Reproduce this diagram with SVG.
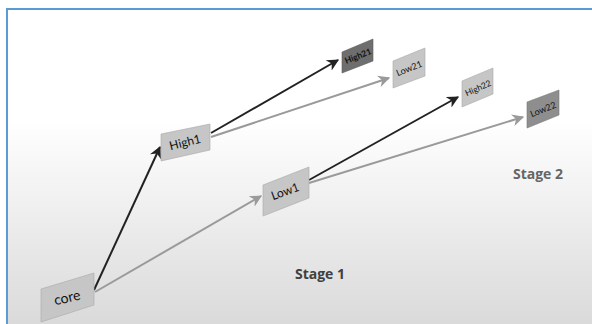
<svg xmlns="http://www.w3.org/2000/svg" width="592" height="324" viewBox="0 0 592 324">
<defs>
<linearGradient id="bg" x1="0" y1="0" x2="0" y2="1">
<stop offset="0" stop-color="#ffffff"/>
<stop offset="0.35" stop-color="#ffffff"/>
<stop offset="1" stop-color="#d9d9d9"/>
</linearGradient>
<marker id="ab" viewBox="0 0 10 10" refX="9" refY="5" markerWidth="6" markerHeight="6" orient="auto" markerUnits="strokeWidth">
<path d="M0,0 L10,5 L0,10 L3,5 Z" fill="#222"/>
</marker>
<marker id="ag" viewBox="0 0 10 10" refX="9" refY="5" markerWidth="6" markerHeight="6" orient="auto" markerUnits="strokeWidth">
<path d="M0,0 L10,5 L0,10 L3,5 Z" fill="#9a9a9a"/>
</marker>
</defs>
<style>
.node{fill:#c6c6c6;stroke:#a8a8a8;stroke-width:0.6}
.dark{fill:#6e6e6e;stroke:#5a5a5a;stroke-width:0.6}
.mid{fill:#8e8e8e;stroke:#7a7a7a;stroke-width:0.6}
.t{font-family:Lato,"Open Sans","Liberation Sans",sans-serif;fill:#111;text-anchor:middle;dominant-baseline:central}
.blk{stroke:#222;stroke-width:2;fill:none;marker-end:url(#ab)}
.gry{stroke:#9a9a9a;stroke-width:2;fill:none;marker-end:url(#ag)}
.stage{font-family:"Open Sans","Liberation Sans",sans-serif;font-weight:bold;font-size:14px;text-anchor:middle;dominant-baseline:central}
</style>
<rect x="0" y="0" width="592" height="324" fill="#ffffff"/>
<rect x="7" y="9" width="590" height="320" fill="url(#bg)"/>
<path d="M7,324 L7,9 L592,9" fill="none" stroke="#5b9bd5" stroke-width="2"/>
<g id="connectors">
<line class="blk" x1="94" y1="290" x2="160" y2="147"/>
<line class="gry" x1="95" y1="292" x2="261" y2="196"/>
<line class="blk" x1="211" y1="133" x2="338" y2="60"/>
<line class="gry" x1="211" y1="137" x2="389" y2="78"/>
<line class="blk" x1="309" y1="180" x2="458" y2="97"/>
<line class="gry" x1="309" y1="183" x2="523" y2="117"/>
</g>
<g id="core">
<polygon class="node" points="41,289 94,273 94,305 41,322"/>
<text class="t" x="67" y="297" font-size="14" transform="rotate(-13 67 297)">core</text>
</g>
<g id="High1">
<polygon class="node" points="161,134 210,124 210,150 161,161"/>
<text class="t" x="185" y="142" font-size="12" transform="rotate(-14 185 142)">High1</text>
</g>
<g id="Low1">
<polygon class="node" points="263,185 309,167 309,198 263,216"/>
<text class="t" x="285" y="191" font-size="12" transform="rotate(-20 285 191)">Low1</text>
</g>
<g id="High21">
<polygon class="dark" points="342,52 373,39 373,61 342,73"/>
<text class="t" x="358" y="56" font-size="8.5" font-weight="bold" transform="rotate(-22 358 56)">High21</text>
</g>
<g id="Low21">
<polygon class="node" points="393,61 425,48 425,76 393,88"/>
<text class="t" x="409" y="68" font-size="9" transform="rotate(-22 409 68)">Low21</text>
</g>
<g id="High22">
<polygon class="node" points="462,81 493,68 493,94 462,107"/>
<text class="t" x="478" y="88" font-size="8.5" transform="rotate(-24 478 88)">High22</text>
</g>
<g id="Low22">
<polygon class="mid" points="527,102 559,90 559,115 527,128"/>
<text class="t" x="543" y="109" font-size="9" transform="rotate(-22 543 109)">Low22</text>
</g>
<text class="stage" x="538" y="173" fill="#666">Stage 2</text>
<text class="stage" x="320" y="273" fill="#404040">Stage 1</text>
</svg>
